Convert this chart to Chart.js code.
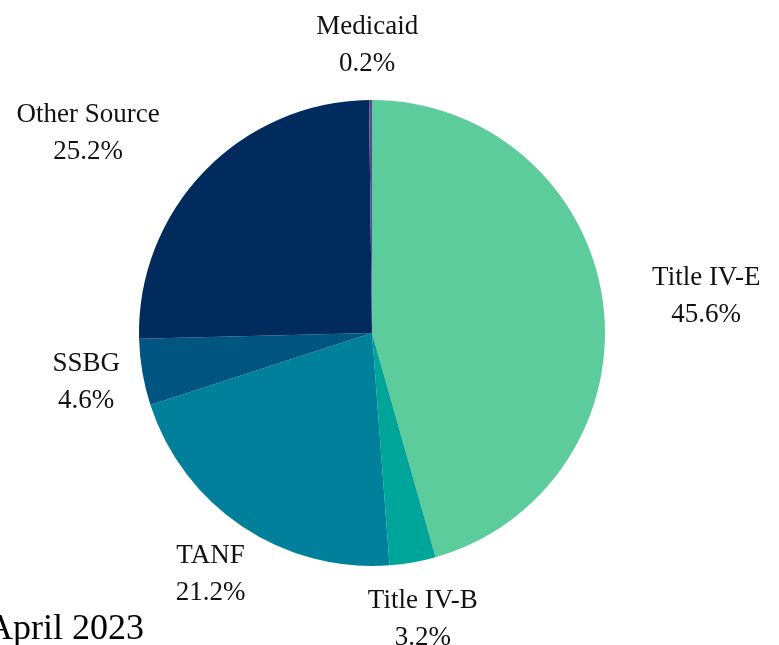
<!DOCTYPE html>
<html lang="en">
<head>
    <meta charset="UTF-8">
    <title>Funding Sources - April 2023</title>
    <script src="https://cdn.jsdelivr.net/npm/chart.js"></script>
    <style>
        * {
            margin: 0;
            padding: 0;
            box-sizing: border-box;
        }
        body {
            background-color: #ffffff;
            width: 779px;
            height: 645px;
            overflow: hidden;
            position: relative;
            font-family: 'Liberation Serif', serif;
        }
        .chart-container {
            position: absolute;
            left: 0;
            top: 0;
            width: 779px;
            height: 645px;
        }
        .date-label {
            position: absolute;
            left: -13px;
            top: 607px;
            font-size: 36px;
            color: #000;
            white-space: nowrap;
            line-height: 40px;
        }
    </style>
</head>
<body>
    <div class="chart-container">
        <canvas id="fundingChart" width="779" height="645"></canvas>
    </div>
    <div class="date-label">April 2023</div>

    <script>
        // data
        const categories = ['Title IV-E', 'Title IV-B', 'TANF', 'SSBG', 'Other Source', 'Medicaid'];
        const shares = [45.6, 3.2, 21.2, 4.6, 25.2, 0.2];
        const sliceColors = ['#5ccc9c', '#00a59a', '#00809a', '#005581', '#002b5c', '#5b4a8b'];

        // labels sit outside the pie; a couple get nudged like the original layout
        const labelNudge = { 'Title IV-E': [47, 3], 'Other Source': [-75, 1], 'Medicaid': [-3, 2] };

        const outsideLabels = {
            id: 'outsideLabels',
            afterDraw(chart) {
                const ctx = chart.ctx;
                const arcs = chart.getDatasetMeta(0).data;
                ctx.save();
                ctx.font = '27px "Liberation Serif", serif';
                ctx.fillStyle = '#111111';
                ctx.textAlign = 'center';
                ctx.textBaseline = 'middle';
                arcs.forEach((arc, i) => {
                    const mid = (arc.startAngle + arc.endAngle) / 2;
                    const dist = arc.outerRadius + 57;
                    const nudge = labelNudge[categories[i]] || [0, 0];
                    const x = arc.x + Math.cos(mid) * dist + nudge[0];
                    const y = arc.y + Math.sin(mid) * dist + nudge[1];
                    ctx.fillText(categories[i], x, y - 18);
                    ctx.fillText(shares[i].toFixed(1) + '%', x, y + 19);
                });
                ctx.restore();
            }
        };

        const fundingCtx = document.getElementById('fundingChart').getContext('2d');
        new Chart(fundingCtx, {
            type: 'pie',
            data: {
                labels: categories,
                datasets: [{
                    data: shares,
                    backgroundColor: sliceColors,
                    borderWidth: 0
                }]
            },
            options: {
                responsive: false,
                animation: false,
                layout: {
                    padding: { top: 100, bottom: 79, left: 139, right: 174 }
                },
                plugins: {
                    legend: { display: false },
                    tooltip: { enabled: false }
                }
            },
            plugins: [outsideLabels]
        });
    </script>
</body>
</html>
